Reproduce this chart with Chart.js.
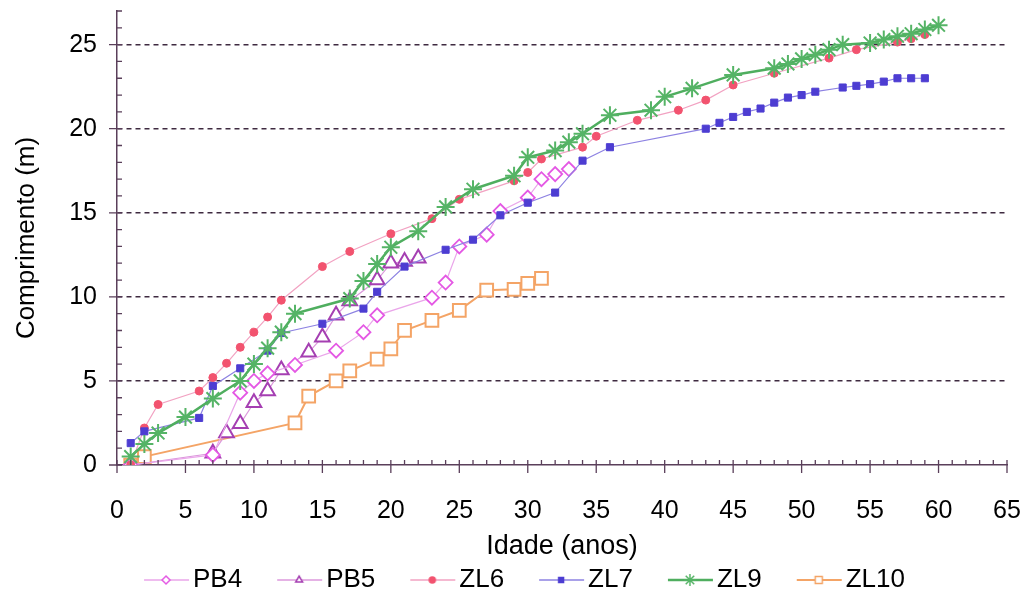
<!DOCTYPE html>
<html>
<head>
<meta charset="utf-8">
<title>Comprimento x Idade</title>
<script src="https://cdn.jsdelivr.net/npm/chart.js@4/dist/chart.umd.min.js"></script>
<style>
    html, body { margin: 0; padding: 0; background: #fff; }
    #wrap { width: 1027px; height: 603px; }
</style>
</head>
<body>
<div id="wrap"><canvas id="chartIdade" width="1027" height="603"></canvas></div>
<script>
// idade (anos) e comprimento (m) de cada animal
const pb4Idade = [1, 7, 9, 10, 11, 13, 16, 18, 19, 23, 24, 25, 27, 28, 30, 31, 32, 33];
const pb4Comp = [0, 0.6, 4.3, 5.0, 5.45, 5.95, 6.8, 7.9, 8.9, 9.95, 10.85, 13.0, 13.7, 15.1, 15.9, 17.0, 17.3, 17.6];

const pb5Idade = [1, 7, 8, 9, 10, 11, 12, 14, 15, 16, 17, 19, 20, 21, 22];
const pb5Comp = [0, 0.7, 1.9, 2.45, 3.7, 4.4, 5.65, 6.7, 7.6, 8.9, 9.75, 11.0, 12.0, 12.1, 12.3];

const zl6Idade = [1, 2, 3, 6, 7, 8, 9, 10, 11, 12, 15, 17, 20, 23, 25, 29, 30, 31, 34, 35, 38, 41, 43, 45, 48, 52, 54, 57, 58, 59];
const zl6Comp = [0, 2.2, 3.6, 4.4, 5.2, 6.05, 7.0, 7.9, 8.8, 9.8, 11.8, 12.7, 13.75, 14.65, 15.8, 16.9, 17.4, 18.2, 18.9, 19.55, 20.5, 21.1, 21.7, 22.6, 23.3, 24.2, 24.7, 25.15, 25.35, 25.6];

const zl7Idade = [1, 2, 6, 7, 9, 11, 12, 15, 18, 19, 21, 24, 26, 28, 30, 32, 34, 36, 43, 44, 45, 46, 47, 48, 49, 50, 51, 53, 54, 55, 56, 57, 58, 59];
const zl7Comp = [1.3, 2.0, 2.8, 4.7, 5.75, 6.8, 7.85, 8.4, 9.3, 10.3, 11.8, 12.8, 13.4, 14.85, 15.6, 16.2, 18.1, 18.9, 20.0, 20.35, 20.7, 21.0, 21.2, 21.55, 21.85, 22.0, 22.2, 22.45, 22.55, 22.65, 22.8, 23.0, 23.0, 23.0];

const zl9Idade = [1, 2, 3, 5, 7, 9, 10, 11, 12, 13, 17, 18, 19, 20, 22, 24, 26, 29, 30, 32, 33, 34, 36, 39, 40, 42, 45, 48, 49, 50, 51, 52, 53, 55, 56, 57, 58, 59, 60];
const zl9Comp = [0.5, 1.25, 1.9, 2.85, 3.95, 5.0, 6.0, 6.95, 7.9, 9.0, 9.9, 10.95, 11.95, 12.95, 13.9, 15.35, 16.4, 17.2, 18.3, 18.7, 19.2, 19.7, 20.8, 21.1, 21.9, 22.4, 23.2, 23.6, 23.85, 24.15, 24.4, 24.7, 25.0, 25.1, 25.3, 25.5, 25.65, 25.9, 26.15];

const zl10Idade = [1, 2, 13, 14, 16, 17, 19, 20, 21, 23, 25, 27, 29, 30, 31];
const zl10Comp = [0, 0.5, 2.5, 4.1, 5.0, 5.6, 6.3, 6.9, 8.0, 8.6, 9.2, 10.4, 10.45, 10.8, 11.1];

const xTicks = [0, 5, 10, 15, 20, 25, 30, 35, 40, 45, 50, 55, 60, 65];
const yTicks = [0, 5, 10, 15, 20, 25];

const corEixo = '#5a3f5a';
const fonte = 'Liberation Sans, Arial, sans-serif';

function pares(xs, ys) {
    return xs.map((v, i) => ({ x: v, y: ys[i] }));
}

// icone da legenda: linha com o marcador no meio (estilo Excel)
function iconeLegenda(ds) {
    const c = document.createElement('canvas');
    c.width = 80;
    c.height = 20;
    const g = c.getContext('2d');
    g.strokeStyle = ds.borderColor;
    g.lineWidth = Math.max(1.5, ds.borderWidth);
    g.beginPath();
    g.moveTo(30, 10);
    g.lineTo(75, 10);
    g.stroke();
    g.fillStyle = ds.pointBackgroundColor;
    g.strokeStyle = ds.pointBorderColor;
    g.lineWidth = 1.5;
    Chart.helpers.drawPoint(g, {
        pointStyle: ds.pointStyle,
        radius: ds.legendRadius,
        rotation: 0,
        borderWidth: 1.5
    }, 52, 10);
    return c;
}

// marcas principais e secundarias nos eixos
const marcasEixos = {
    id: 'marcasEixos',
    afterDatasetsDraw(chart) {
        const { ctx, scales: { x, y } } = chart;
        const y0 = y.getPixelForValue(0);
        const x0 = x.getPixelForValue(0);
        ctx.save();
        ctx.strokeStyle = corEixo;
        ctx.lineWidth = 1.3;
        ctx.beginPath();
        for (let v = 0; v <= 65; v++) {
            const px = x.getPixelForValue(v);
            ctx.moveTo(px, y0 - 5);
            ctx.lineTo(px, y0 + (xTicks.includes(v) ? 8 : 0));
        }
        for (let v = 0; v <= 27; v++) {
            const py = y.getPixelForValue(v);
            ctx.moveTo(x0 + 5, py);
            ctx.lineTo(x0 - (yTicks.includes(v) ? 8 : 0), py);
        }
        ctx.stroke();
        ctx.restore();
    }
};

const datasets = [
    {
        label: 'PB4', data: pares(pb4Idade, pb4Comp), order: 3,
        borderColor: '#eaa6ea', borderWidth: 1.2,
        pointStyle: 'rectRot', pointRadius: 7, pointBorderWidth: 1.8,
        pointBorderColor: '#e458e4', pointBackgroundColor: '#ffffff', legendRadius: 4
    },
    {
        label: 'PB5', data: pares(pb5Idade, pb5Comp), order: 4,
        borderColor: '#dc98dc', borderWidth: 1.2,
        pointStyle: 'triangle', pointRadius: 8.5, pointBorderWidth: 2,
        pointBorderColor: '#a53fb2', pointBackgroundColor: '#ffffff', legendRadius: 4
    },
    {
        label: 'ZL6', data: pares(zl6Idade, zl6Comp), order: 2,
        borderColor: '#f2a2c2', borderWidth: 1.2,
        pointStyle: 'circle', pointRadius: 4, pointBorderWidth: 1,
        pointBorderColor: '#f2536f', pointBackgroundColor: '#f2536f', legendRadius: 3
    },
    {
        label: 'ZL7', data: pares(zl7Idade, zl7Comp), order: 1,
        borderColor: '#8d82e2', borderWidth: 1.2,
        pointStyle: 'rect', pointRadius: 5, pointBorderWidth: 1,
        pointBorderColor: '#4d3dd2', pointBackgroundColor: '#4d3dd2', legendRadius: 3.5
    },
    {
        label: 'ZL9', data: pares(zl9Idade, zl9Comp), order: 0,
        borderColor: '#4fae5f', borderWidth: 2.5,
        pointStyle: 'star', pointRadius: 9, pointBorderWidth: 2,
        pointBorderColor: '#55b466', pointBackgroundColor: '#55b466', legendRadius: 6
    },
    {
        label: 'ZL10', data: pares(zl10Idade, zl10Comp), order: 5,
        borderColor: '#f4a466', borderWidth: 2,
        pointStyle: 'rect', pointRadius: 9, pointBorderWidth: 2,
        pointBorderColor: '#f4a466', pointBackgroundColor: '#ffffff', legendRadius: 5
    }
];

datasets.forEach(ds => {
    ds.showLine = true;
    ds.tension = 0;
    ds.fill = false;
    ds.pointHoverRadius = ds.pointRadius;
});

let config = {
    type: 'scatter',
    data: { datasets: datasets },
    options: {
        responsive: false,
        animation: false,
        events: [],
        layout: {
            padding: { top: 10, right: 20, left: 26, bottom: 0 }
        },
        plugins: {
            tooltip: { enabled: false },
            legend: {
                position: 'bottom',
                labels: {
                    usePointStyle: true,
                    pointStyleWidth: 52,
                    padding: 19,
                    color: '#000',
                    font: { family: fonte, size: 26 },
                    generateLabels(chart) {
                        return chart.data.datasets.map((ds, i) => ({
                            text: ds.label,
                            pointStyle: iconeLegenda(ds),
                            fillStyle: ds.borderColor,
                            strokeStyle: ds.borderColor,
                            lineWidth: 0,
                            fontColor: '#000',
                            hidden: false,
                            datasetIndex: i
                        }));
                    }
                }
            }
        },
        scales: {
            x: {
                type: 'linear',
                min: 0,
                max: 65,
                afterBuildTicks(scale) {
                    scale.ticks = xTicks.map(v => ({ value: v }));
                },
                afterFit(scale) {
                    const leg = scale.chart.legend;
                    const lh = leg && leg.height > 0 ? leg.height : 45;
                    scale.height = 603 - lh - 465;
                    scale.paddingLeft = 0;
                    scale.paddingRight = 0;
                },
                ticks: {
                    autoSkip: false,
                    maxRotation: 0,
                    padding: 31,
                    color: '#000',
                    font: { family: fonte, size: 25 }
                },
                grid: { display: true, drawOnChartArea: false, drawTicks: false },
                border: { display: true, color: corEixo, width: 1.5 },
                title: {
                    display: true,
                    text: 'Idade (anos)',
                    color: '#000',
                    font: { family: fonte, size: 27 },
                    padding: { top: 0, bottom: -15 }
                }
            },
            y: {
                type: 'linear',
                min: 0,
                max: 27,
                afterBuildTicks(scale) {
                    scale.ticks = yTicks.map(v => ({ value: v }));
                },
                afterFit(scale) {
                    scale.width = 91;
                    scale.paddingTop = 0;
                    scale.paddingBottom = 0;
                },
                ticks: {
                    padding: 20,
                    color: '#000',
                    font: { family: fonte, size: 25 }
                },
                grid: {
                    drawTicks: false,
                    lineWidth: 1.5,
                    color: ctx => ctx.tick && ctx.tick.value === 0 ? 'rgba(0,0,0,0)' : '#3e2a40'
                },
                border: { display: true, color: corEixo, width: 1.5, dash: [5, 4] },
                title: {
                    display: true,
                    text: 'Comprimento (m)',
                    color: '#000',
                    font: { family: fonte, size: 26 },
                    padding: { top: -15, bottom: 0 }
                }
            }
        }
    },
    plugins: [marcasEixos]
};

let chartIdade = new Chart(document.querySelector('#chartIdade').getContext('2d'), config);
</script>
</body>
</html>
